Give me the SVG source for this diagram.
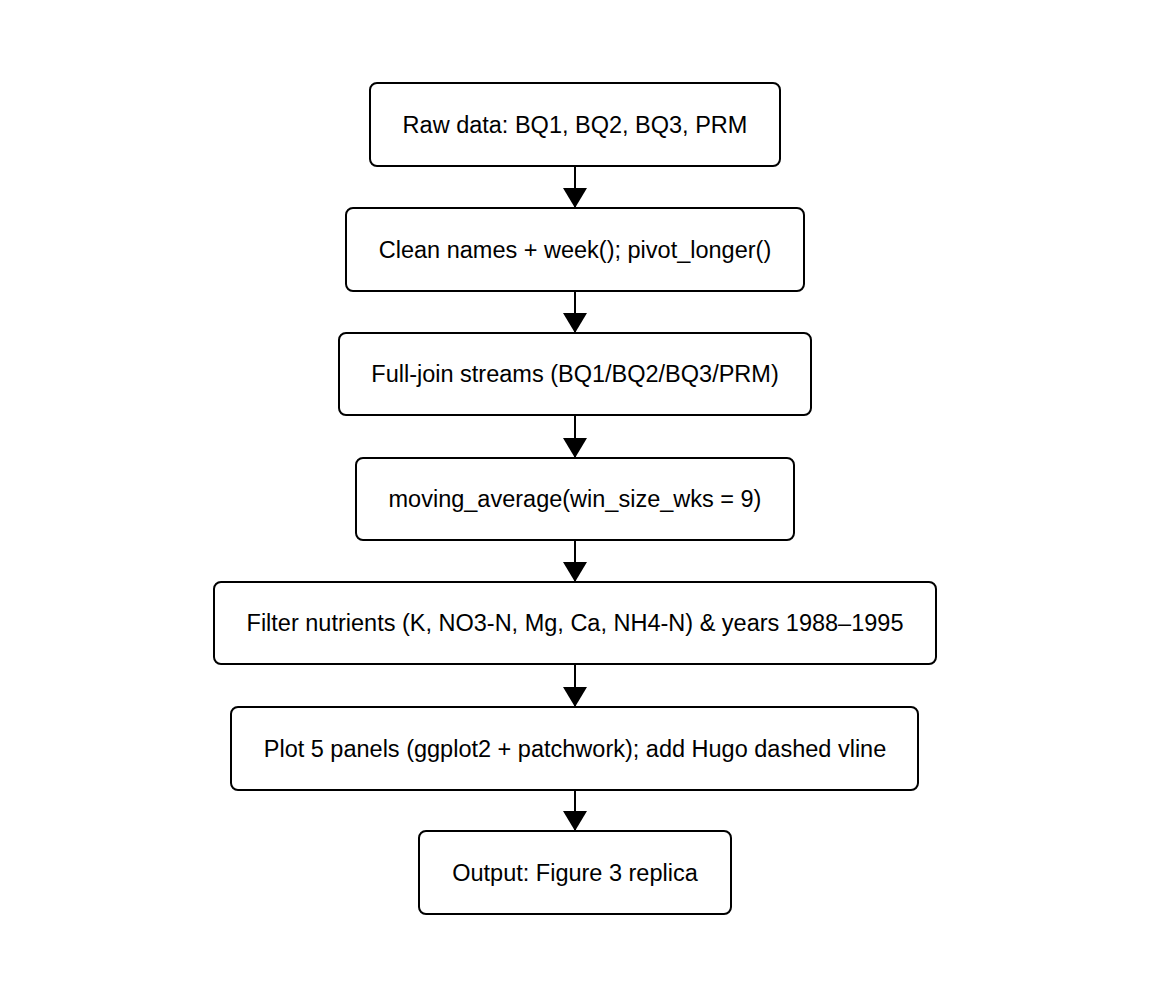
<svg xmlns="http://www.w3.org/2000/svg" width="1150" height="998" viewBox="0 0 1150 998">
<style>
.box{fill:#fff;stroke:#000;stroke-width:2}
.lbl{font-family:"Liberation Sans",Arial,sans-serif;font-size:23.5px;fill:#000;text-anchor:middle;dominant-baseline:central}
.edge{stroke:#000;stroke-width:2;fill:none}
</style>
<defs>
<marker id="ah" viewBox="0 0 20 24" refX="20" refY="12" markerWidth="20" markerHeight="24" markerUnits="userSpaceOnUse" orient="auto">
<path d="M0,0 L20,12 L0,24 Z" fill="#000"/>
</marker>
</defs>
<rect width="1150" height="998" fill="#fff"/>
<g id="connectors">
<line class="edge" x1="575" y1="166" x2="575" y2="208" marker-end="url(#ah)"/>
<line class="edge" x1="575" y1="291" x2="575" y2="333" marker-end="url(#ah)"/>
<line class="edge" x1="575" y1="415" x2="575" y2="458" marker-end="url(#ah)"/>
<line class="edge" x1="575" y1="540" x2="575" y2="582" marker-end="url(#ah)"/>
<line class="edge" x1="575" y1="664" x2="575" y2="707" marker-end="url(#ah)"/>
<line class="edge" x1="575" y1="790" x2="575" y2="831" marker-end="url(#ah)"/>
</g>
<g id="n1"><rect class="box" x="370" y="83" width="410" height="83" rx="7"/><text class="lbl" x="575" y="125">Raw data: BQ1, BQ2, BQ3, PRM</text></g>
<g id="n2"><rect class="box" x="346" y="208" width="458" height="83" rx="7"/><text class="lbl" x="575" y="250">Clean names + week(); pivot_longer()</text></g>
<g id="n3"><rect class="box" x="339" y="333" width="472" height="82" rx="7"/><text class="lbl" x="575" y="374">Full-join streams (BQ1/BQ2/BQ3/PRM)</text></g>
<g id="n4"><rect class="box" x="356" y="458" width="438" height="82" rx="7"/><text class="lbl" x="575" y="499">moving_average(win_size_wks = 9)</text></g>
<g id="n5"><rect class="box" x="214" y="582" width="722" height="82" rx="7"/><text class="lbl" x="575" y="623">Filter nutrients (K, NO3-N, Mg, Ca, NH4-N) &amp; years 1988–1995</text></g>
<g id="n6"><rect class="box" x="231" y="707" width="687" height="83" rx="7"/><text class="lbl" x="575" y="749">Plot 5 panels (ggplot2 + patchwork); add Hugo dashed vline</text></g>
<g id="n7"><rect class="box" x="419" y="831" width="312" height="83" rx="7"/><text class="lbl" x="575" y="873">Output: Figure 3 replica</text></g>
</svg>
